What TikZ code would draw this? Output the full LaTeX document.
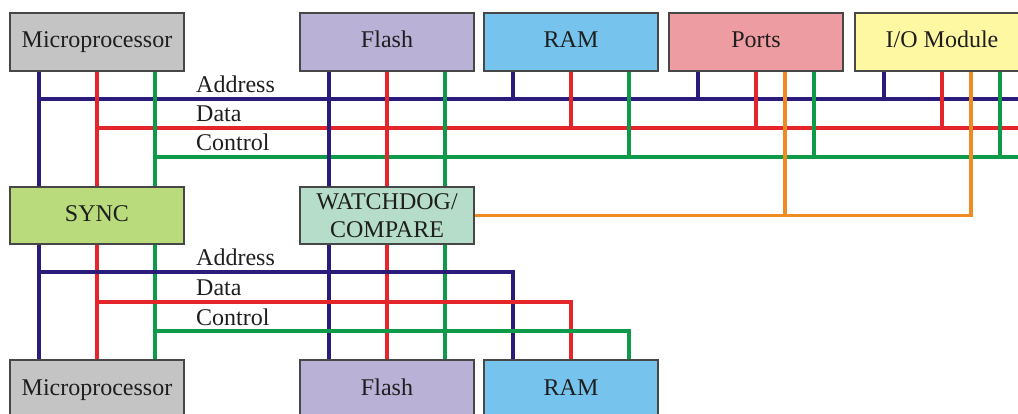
\documentclass[tikz,border=0pt]{standalone}
\usepackage{fontspec}
\setmainfont{Liberation Serif}
\usetikzlibrary{backgrounds}

% bus and box colours
\definecolor{busA}{HTML}{2B1C7C}
\definecolor{busD}{HTML}{E4262B}
\definecolor{busC}{HTML}{0E9A48}
\definecolor{busO}{HTML}{F08A22}
\definecolor{frame}{HTML}{474747}
\definecolor{ink}{HTML}{1E1E1E}
\definecolor{fCpu}{HTML}{C4C4C4}
\definecolor{fFlash}{HTML}{B9B1D6}
\definecolor{fRam}{HTML}{76C4EE}
\definecolor{fPorts}{HTML}{ED9DA1}
\definecolor{fIo}{HTML}{FFF8A3}
\definecolor{fSync}{HTML}{BADB7B}
\definecolor{fWdog}{HTML}{B6DDC9}

\tikzset{
  unit/.style={draw=frame, line width=2.2pt, minimum width=174pt,
    minimum height=58pt, inner sep=0pt, text=ink,
    font=\fontsize{24}{28}\selectfont},
  oneline/.style={text height=16pt, text depth=4pt},
  addr/.style={draw=busA, line width=3.3pt},
  data/.style={draw=busD, line width=3.3pt},
  ctrl/.style={draw=busC, line width=3.3pt},
  wdline/.style={draw=busO, line width=3.3pt},
  buslabel/.style={anchor=base west, inner sep=0pt, text=ink,
    font=\fontsize{24}{28}\selectfont},
}

\begin{document}
\begin{tikzpicture}[x=1pt, y=-1pt]
\useasboundingbox (0,0) rectangle (1018,414);

% top row
\node[unit, oneline, fill=fCpu]   (cpu1)   at (97,42)  {Microprocessor};
\node[unit, oneline, fill=fFlash] (flash1) at (387,42) {Flash};
\node[unit, oneline, fill=fRam]   (ram1)   at (571,42) {RAM};
\node[unit, oneline, fill=fPorts] (ports)  at (756,42) {Ports};
\node[unit, oneline, fill=fIo]    (io)     at (942,42) {I/O Module};
% middle row
\node[unit, oneline, fill=fSync, minimum height=57pt] (sync) at (97,215.5) {SYNC};
\node[unit, fill=fWdog, minimum height=57pt, align=center] (wdog) at (387,215.5)
  {WATCHDOG/\\COMPARE};
% bottom row
\node[unit, oneline, fill=fCpu]   (cpu2)   at (97,389)  {Microprocessor};
\node[unit, oneline, fill=fFlash] (flash2) at (387,389) {Flash};
\node[unit, oneline, fill=fRam]   (ram2)   at (571,389) {RAM};

% bus labels
\node[buslabel] (la1) at (196,93)  {Address};
\node[buslabel] (ld1) at (196,122) {Data};
\node[buslabel] (lc1) at (196,151) {Control};
\node[buslabel] (la2) at (196,266) {Address};
\node[buslabel] (ld2) at (196,296) {Data};
\node[buslabel] (lc2) at (196,325) {Control};

% tap points on the box edges
\foreach \n in {cpu1,flash1,ram1,ports,io,sync,wdog} {
  \coordinate (\n-sA) at ([xshift=-58pt]\n.south);
  \coordinate (\n-sD) at (\n.south);
  \coordinate (\n-sC) at ([xshift=58pt]\n.south);
  \coordinate (\n-sO) at ([xshift=29pt]\n.south);
}
\foreach \n in {sync,wdog,cpu2,flash2,ram2} {
  \coordinate (\n-nA) at ([xshift=-58pt]\n.north);
  \coordinate (\n-nD) at (\n.north);
  \coordinate (\n-nC) at ([xshift=58pt]\n.north);
}

% bus levels
\coordinate (a1) at (1018,99);
\coordinate (d1) at (1018,128);
\coordinate (c1) at (1018,157);
\coordinate (a2) at (0,272);
\coordinate (d2) at (0,302);
\coordinate (c2) at (0,331);

\begin{scope}[on background layer]
  % upper bus
  \draw[addr] (cpu1-sA |- a1) -- (a1);
  \draw[data] (cpu1-sD |- d1) -- (d1);
  \draw[ctrl] (cpu1-sC |- c1) -- (c1);
  \draw[addr] (cpu1-sA) -- (sync-nA);
  \draw[data] (cpu1-sD) -- (sync-nD);
  \draw[ctrl] (cpu1-sC) -- (sync-nC);
  \draw[addr] (flash1-sA) -- (wdog-nA);
  \draw[data] (flash1-sD) -- (wdog-nD);
  \draw[ctrl] (flash1-sC) -- (wdog-nC);
  \foreach \n in {ram1,ports,io} {
    \draw[addr] (\n-sA) -- (\n-sA |- a1);
    \draw[data] (\n-sD) -- (\n-sD |- d1);
    \draw[ctrl] (\n-sC) -- (\n-sC |- c1);
  }
  % watchdog line to ports and I/O
  \draw[wdline] (wdog.east) -| (io-sO);
  \draw[wdline] (ports-sO) -- (ports-sO |- wdog.east);
  % lower bus
  \draw[addr] (sync-sA) -- (cpu2-nA);
  \draw[data] (sync-sD) -- (cpu2-nD);
  \draw[ctrl] (sync-sC) -- (cpu2-nC);
  \draw[addr] (wdog-sA) -- (flash2-nA);
  \draw[data] (wdog-sD) -- (flash2-nD);
  \draw[ctrl] (wdog-sC) -- (flash2-nC);
  \draw[addr] (sync-sA |- a2) -| (ram2-nA);
  \draw[data] (sync-sD |- d2) -| (ram2-nD);
  \draw[ctrl] (sync-sC |- c2) -| (ram2-nC);
\end{scope}
\end{tikzpicture}
\end{document}
